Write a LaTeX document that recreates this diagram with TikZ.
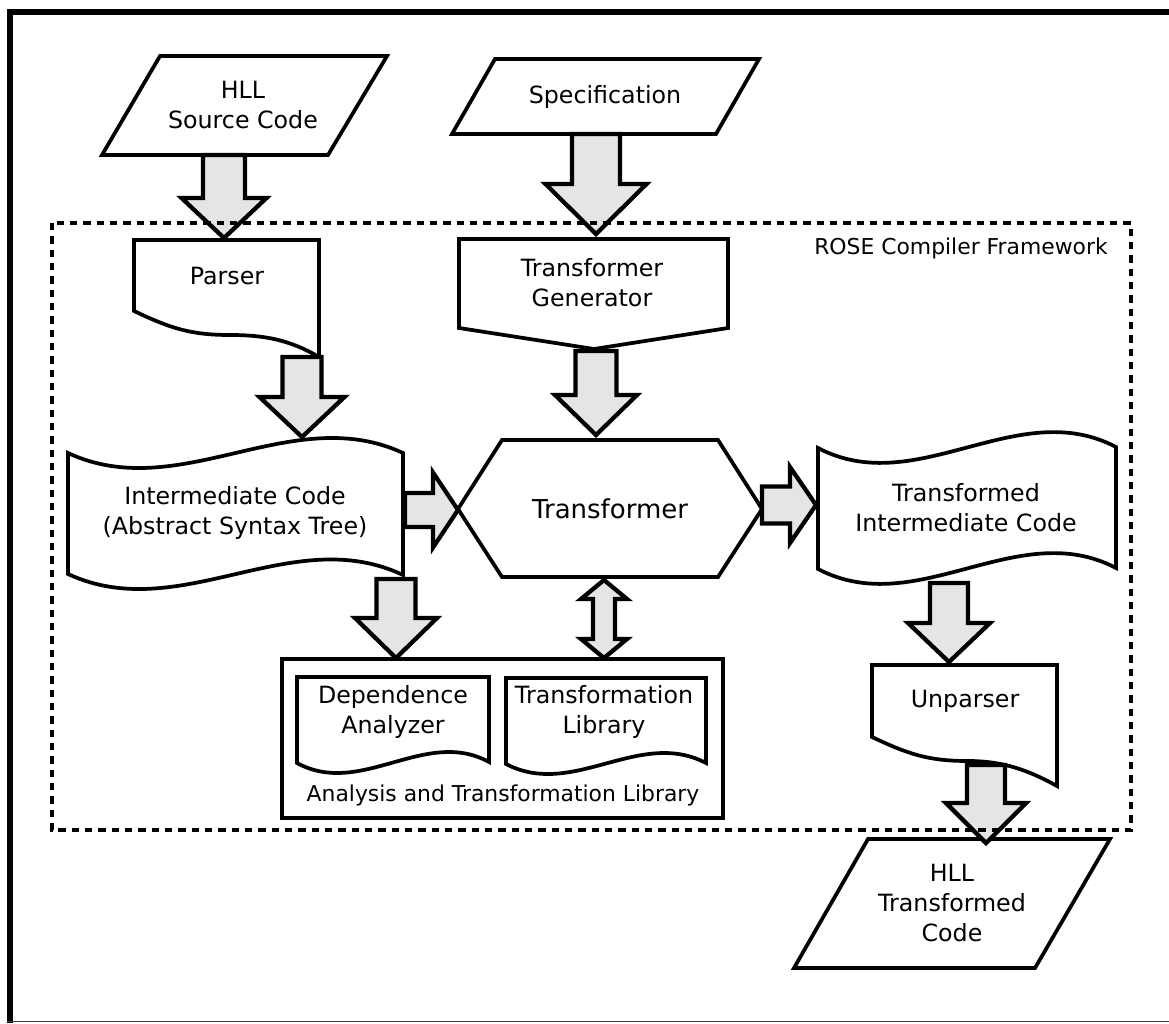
\documentclass[tikz,border=0pt]{standalone}
\usepackage{fontspec}
\setmainfont{DejaVu Sans}
\usetikzlibrary{calc}
\definecolor{arrgray}{RGB}{229,229,229}
\tikzset{
  shp/.style={draw,line width=2.8pt,fill=white},
  blk/.style={draw,line width=3.2pt,fill=arrgray},
  lbl/.style={align=center,inner sep=0pt,font=\fontsize{17.8}{22.5}\selectfont},
  smalllbl/.style={inner sep=0pt,font=\fontsize{16.4}{19}\selectfont},
}
% down / right block arrows: tail, tip, half shaft, half head, head length
\newcommand\blkdown[5]{%
  \draw[blk] ($(#1)+(-#3,0)$)--($(#2)+(-#3,-#5)$)--($(#2)+(-#4,-#5)$)--(#2)
    --($(#2)+(#4,-#5)$)--($(#2)+(#3,-#5)$)--($(#1)+(#3,0)$)--cycle;}
\newcommand\blkright[5]{%
  \draw[blk] ($(#1)+(0,-#3)$)--($(#2)+(-#5,-#3)$)--($(#2)+(-#5,-#4)$)--(#2)
    --($(#2)+(-#5,#4)$)--($(#2)+(-#5,#3)$)--($(#1)+(0,#3)$)--cycle;}
\begin{document}
\begin{tikzpicture}[x=0.75pt,y=-0.75pt]
\useasboundingbox (0,0) rectangle (1169,1023);
\draw[line width=4.5pt](10,1023)--(10,12)--(1169,12);
\draw[line width=1.2pt,black!75](7,1021.5)--(1169,1021.5);

% inputs
\draw[shp](160,56)--(387,56)--(328,155)--(102,155)--cycle;
\node[lbl](src) at (243,105){HLL\\Source Code};
\draw[shp](495,59)--(759,59)--(716,134)--(452,134)--cycle;
\node[lbl](spec) at (605,97){Specification};

% front end
\draw[shp](134,240)--(319,240)--(319,357)
  .. controls (290,340) and (265,335) .. (230,335)
  .. controls (190,335) and (170,328) .. (134,311)--cycle;
\node[lbl](parser) at (227,276){Parser};
\draw[shp](459,239)--(728,239)--(728,328)--(594,349)--(459,328)--cycle;
\node[lbl](gen) at (592,283){Transformer\\Generator};

\draw[shp](68,453) .. controls (180,505) and (291,401) .. (403,453)
  --(403,575) .. controls (291,522) and (180,626) .. (68,574)--cycle;
\node[lbl](ic) at (235,513){Intermediate Code\\(Abstract Syntax Tree)};

\draw[shp](502,440)--(718,440)--(762,509)--(718,577)--(502,577)--(458,509)--cycle;
\node[lbl,font=\fontsize{19.5}{22}\selectfont](tr) at (610,509){Transformer};

\draw[shp](818,448) .. controls (917,500) and (1017,395) .. (1116,447)
  --(1116,568) .. controls (1017,516) and (917,621) .. (818,569)--cycle;
\node[lbl](tic) at (966,508){Transformed\\Intermediate Code};

\draw[shp](872,665)--(1057,665)--(1057,786)
  .. controls (1028,770) and (1003,761) .. (968,761)
  .. controls (928,761) and (908,754) .. (872,737)--cycle;
\node[lbl](unp) at (965,701){Unparser};

% library
\draw[line width=2.8pt](282,659) rectangle (723,818);
\draw[shp](297,677)--(489,677)--(489,762)
  .. controls (425,727) and (361,798) .. (297,763)--cycle;
\node[lbl](dep) at (393,712){Dependence\\Analyzer};
\draw[shp](506,678)--(706,678)--(706,763)
  .. controls (639,728) and (573,799) .. (506,764)--cycle;
\node[lbl](tlib) at (604,712){Transformation\\Library};
\node[smalllbl](atl) at (503,795){Analysis and Transformation Library};

% output
\draw[shp](868,839)--(1110,839)--(1035,968)--(794,968)--cycle;
\node[lbl](out) at (952,903){HLL\\Transformed\\Code};

% arrow ends
\coordinate(srcS) at (224,155);  \coordinate(parserN) at (224,238);
\coordinate(specS) at (596,134); \coordinate(genN) at (596,234);
\coordinate(parserS) at (302,357); \coordinate(icN) at (302,437);
\coordinate(genS) at (596,351); \coordinate(trN) at (596,435);
\coordinate(icS) at (396,579); \coordinate(atlN) at (396,658);
\coordinate(icE) at (405,510); \coordinate(trW) at (458,510);
\coordinate(trE) at (762,505); \coordinate(ticW) at (816,505);
\coordinate(ticS) at (949,583); \coordinate(unpN) at (949,662);
\coordinate(unpS) at (986,765); \coordinate(outN) at (986,843);
\coordinate(trS) at (604,580); \coordinate(tlibN) at (604,658);

\blkdown{srcS}{parserN}{21}{42.5}{40}
\blkdown{specS}{genN}{24}{50.5}{50}
\blkdown{parserS}{icN}{19.5}{42.5}{40}
\blkdown{genS}{trN}{20.5}{41}{40}
\blkdown{icS}{atlN}{19.5}{41}{40}
\blkdown{ticS}{unpN}{19}{41}{39}
\blkdown{unpS}{outN}{19}{40}{40}
\blkright{icE}{trW}{17}{37.5}{25}
\blkright{trE}{ticW}{18.5}{38}{26}
\draw[blk](trS)--($(trS)+(23,19)$)--($(trS)+(11,19)$)--($(tlibN)+(11,-19)$)
  --($(tlibN)+(23,-19)$)--(tlibN)--($(tlibN)+(-23,-19)$)--($(tlibN)+(-11,-19)$)
  --($(trS)+(-11,19)$)--($(trS)+(-23,19)$)--cycle;

% framework boundary
\draw[line width=2.5pt,dash pattern=on 5.5pt off 4.5pt](52,223) rectangle (1131,830);
\node[smalllbl](rose) at (961,248){ROSE Compiler Framework};
\end{tikzpicture}
\end{document}
